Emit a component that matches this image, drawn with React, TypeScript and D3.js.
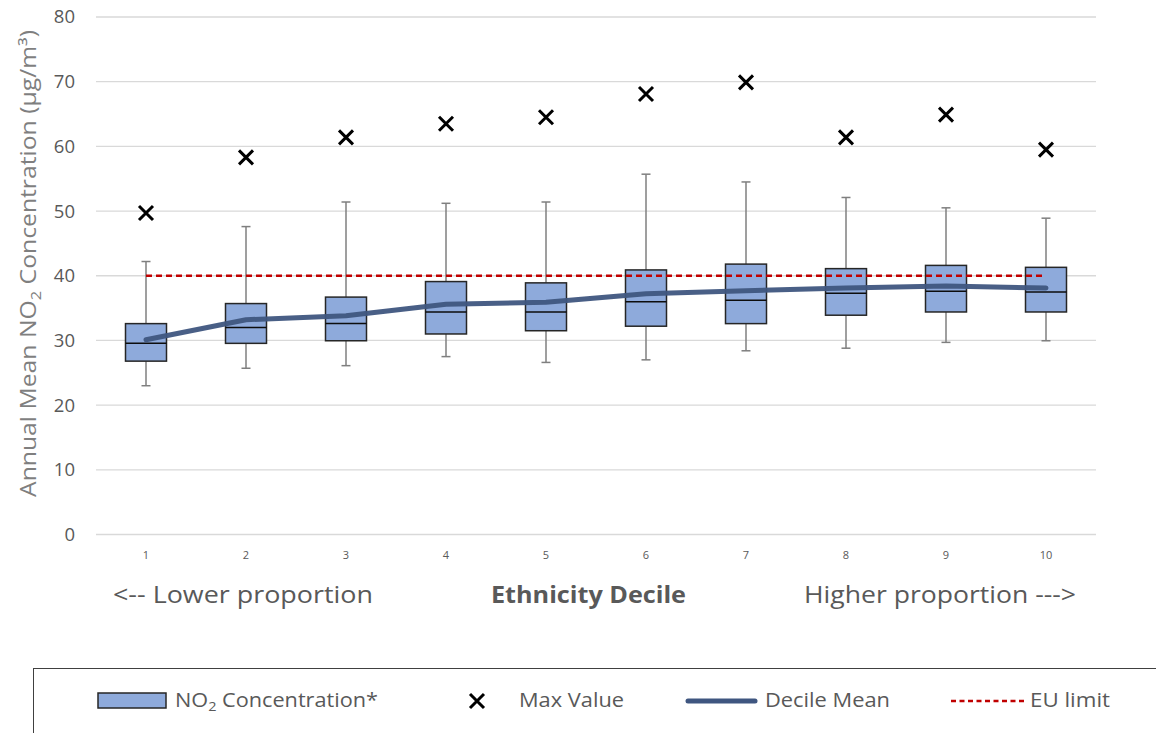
import React from "react";
import * as d3 from "d3";

const deciles = ["1", "2", "3", "4", "5", "6", "7", "8", "9", "10"];
const whiskerLow = [23.0, 25.7, 26.1, 27.5, 26.6, 27.0, 28.4, 28.8, 29.7, 29.95];
const boxLow = [26.8, 29.55, 29.95, 31.0, 31.5, 32.2, 32.6, 33.9, 34.4, 34.4];
const medians = [29.55, 32.0, 32.6, 34.4, 34.4, 36.0, 36.2, 37.3, 37.6, 37.5];
const boxHigh = [32.6, 35.7, 36.7, 39.1, 38.9, 40.9, 41.8, 41.1, 41.6, 41.3];
const whiskerHigh = [42.2, 47.6, 51.4, 51.2, 51.4, 55.7, 54.5, 52.1, 50.5, 48.9];
const maxValues = [49.7, 58.3, 61.4, 63.5, 64.5, 68.1, 69.9, 61.4, 64.9, 59.5];
const decileMeans = [30.1, 33.2, 33.8, 35.6, 35.9, 37.2, 37.7, 38.1, 38.4, 38.1];
const euLimit = 40;
const yTicks = [0, 10, 20, 30, 40, 50, 60, 70, 80];

const FONT = "'Open Sans', 'Noto Sans', sans-serif";
const BOX_FILL = "#8eaadb";
const MEAN_COLOR = "#3f5680";
const TEXT = "#595959";

export default function App() {
  const x = d3.scaleBand<string>().domain(deciles).range([96, 1096]).padding(0);
  const y = d3.scaleLinear().domain([0, 80]).range([534.5, 17]);
  const bw = x.bandwidth();
  const boxW = bw * 0.41;
  const cx = (i: number) => (x(deciles[i]) as number) + bw / 2;

  const meanLine = d3
    .line<number>()
    .x((_, i) => cx(i))
    .y((d) => y(d))(decileMeans) as string;

  const xs = 7;
  const xMark = (px: number, py: number) =>
    `M${px - xs},${py - xs}L${px + xs},${py + xs}M${px - xs},${py + xs}L${px + xs},${py - xs}`;

  return (
    <div style={{ position: "absolute", left: 0, top: 0 }}>
      <svg width={1156} height={733} style={{ display: "block", background: "#fff" }} fontFamily={FONT}>
        {/* gridlines */}
        {yTicks.map((t) => (
          <line key={t} x1={96} x2={1096} y1={y(t)} y2={y(t)} stroke="#d9d9d9" strokeWidth={1.3} />
        ))}
        {/* y tick labels */}
        {yTicks.map((t) => (
          <text key={"l" + t} x={75} y={y(t)} dy="0.35em" textAnchor="end" fontSize={18.5} fill={TEXT}>
            {t}
          </text>
        ))}
        {/* y title */}
        <text
          transform={`translate(36,263.5) rotate(-90)`}
          textAnchor="middle"
          fontSize={21}
          fill="#7f7f7f"
          textLength={467}
          lengthAdjust="spacingAndGlyphs"
        >
          Annual Mean NO
          <tspan fontSize={14} dy={5}>2</tspan>
          <tspan dy={-5}> Concentration (µg/m³)</tspan>
        </text>

        {/* boxes */}
        {deciles.map((d, i) => {
          const c = cx(i);
          return (
            <g key={d}>
              <line x1={c} x2={c} y1={y(whiskerHigh[i])} y2={y(boxHigh[i])} stroke="#7f7f7f" strokeWidth={1.5} />
              <line x1={c} x2={c} y1={y(boxLow[i])} y2={y(whiskerLow[i])} stroke="#7f7f7f" strokeWidth={1.5} />
              <line x1={c - 4.5} x2={c + 4.5} y1={y(whiskerHigh[i])} y2={y(whiskerHigh[i])} stroke="#7f7f7f" strokeWidth={1.5} />
              <line x1={c - 4.5} x2={c + 4.5} y1={y(whiskerLow[i])} y2={y(whiskerLow[i])} stroke="#7f7f7f" strokeWidth={1.5} />
              <rect
                x={c - boxW / 2}
                y={y(boxHigh[i])}
                width={boxW}
                height={y(boxLow[i]) - y(boxHigh[i])}
                fill={BOX_FILL}
                stroke="#262626"
                strokeWidth={1.5}
              />
              <line x1={c - boxW / 2} x2={c + boxW / 2} y1={y(medians[i])} y2={y(medians[i])} stroke="#0d0d0d" strokeWidth={1.5} />
            </g>
          );
        })}

        {/* EU limit */}
        <line
          x1={cx(0)}
          x2={cx(deciles.length - 1)}
          y1={y(euLimit)}
          y2={y(euLimit)}
          stroke="#c00000"
          strokeWidth={2.4}
          strokeDasharray="6,4"
        />

        {/* mean line */}
        <path d={meanLine} fill="none" stroke={MEAN_COLOR} strokeWidth={5} strokeLinecap="round" strokeLinejoin="round" opacity={0.95} />

        {/* max markers */}
        {maxValues.map((v, i) => (
          <path key={"m" + i} d={xMark(cx(i), y(v))} stroke="#000" strokeWidth={3} fill="none" />
        ))}

        {/* x tick labels */}
        {deciles.map((d, i) => (
          <text key={"x" + d} x={cx(i)} y={559} textAnchor="middle" fontSize={11} fill={TEXT}>
            {d}
          </text>
        ))}

        {/* x axis captions */}
        <text x={113} y={603} fontSize={24} fill={TEXT} textLength={260} lengthAdjust="spacingAndGlyphs">
          {"<-- Lower proportion"}
        </text>
        <text x={491} y={603} fontSize={24} fill={TEXT} fontWeight="bold" textLength={195} lengthAdjust="spacingAndGlyphs">
          Ethnicity Decile
        </text>
        <text x={804} y={603} fontSize={24} fill={TEXT} textLength={272} lengthAdjust="spacingAndGlyphs">
          {"Higher proportion --->"}
        </text>

        {/* legend */}
        <rect x={33.5} y={668.5} width={1140} height={80} fill="none" stroke="#404040" strokeWidth={1} />
        <rect x={98} y={693} width={68} height={15} fill={BOX_FILL} stroke="#262626" strokeWidth={1.5} />
        <text x={175} y={707} fontSize={19.5} fill={TEXT} textLength={203} lengthAdjust="spacingAndGlyphs">
          NO<tspan fontSize={13} dy={4}>2</tspan>
          <tspan dy={-4}> Concentration*</tspan>
        </text>
        <path d={xMark(477, 701)} stroke="#000" strokeWidth={3} fill="none" />
        <text x={519} y={707} fontSize={19.5} fill={TEXT} textLength={105} lengthAdjust="spacingAndGlyphs">Max Value</text>
        <line x1={688} x2={755} y1={701} y2={701} stroke={MEAN_COLOR} strokeWidth={5} strokeLinecap="round" />
        <text x={765} y={707} fontSize={19.5} fill={TEXT} textLength={125} lengthAdjust="spacingAndGlyphs">Decile Mean</text>
        <line x1={951} x2={1024} y1={701} y2={701} stroke="#c00000" strokeWidth={2.4} strokeDasharray="5,3.5" />
        <text x={1030} y={707} fontSize={19.5} fill={TEXT} textLength={80} lengthAdjust="spacingAndGlyphs">EU limit</text>
      </svg>
    </div>
  );
}
